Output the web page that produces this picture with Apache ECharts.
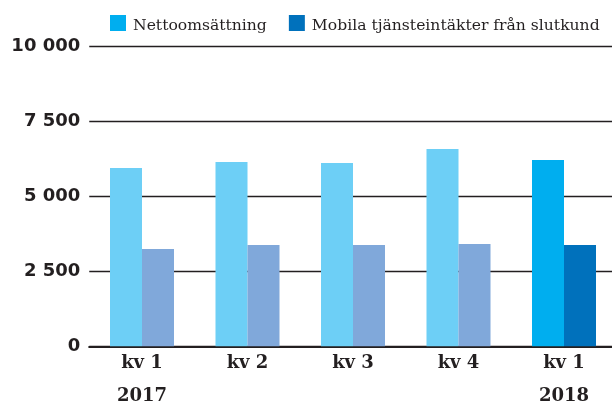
<!DOCTYPE html>
<html>
<head>
<meta charset="utf-8">
<script src="https://cdn.jsdelivr.net/npm/echarts@6/dist/echarts.min.js"></script>
<style>
html,body{margin:0;padding:0;background:#fff;}
#chart{width:612px;height:405px;}
</style>
</head>
<body>
<div id="chart"></div>
<script>
const quarters = ["kv 1", "kv 2", "kv 3", "kv 4", "kv 1"];
const years = ["2017", "", "", "", "2018"];
const seriesNames = ["Nettoomsättning", "Mobila tjänsteintäkter från slutkund"];
const netto = [5940, 6140, 6110, 6580, 6210];
const mobila = [3240, 3380, 3380, 3410, 3380];
const yTicks = [0, 2500, 5000, 7500, 10000];

const darkText = "#231f20";
const nettoColor = "#00aeef", nettoLight = "#6dcff6";
const mobilaColor = "#0071bc", mobilaLight = "#80a8da";

function fmt(v) {
  return String(v).replace(/\B(?=(\d{3})+(?!\d))/g, " ");
}
function items(vals, light) {
  return vals.map((v, i) => i < vals.length - 1 ? { value: v, itemStyle: { color: light } } : { value: v });
}

const chart = echarts.init(document.getElementById("chart"), null, { renderer: "canvas" });
chart.setOption({
  animation: false,
  backgroundColor: "#fff",
  legend: {
    left: 110, top: 15, padding: 0,
    itemWidth: 16, itemHeight: 16, itemGap: 22,
    icon: "rect",
    formatter: name => "{a|" + name + "}",
    textStyle: {
      fontFamily: "DejaVu Serif", fontSize: 15.6, color: darkText,
      rich: { a: { fontFamily: "DejaVu Serif", fontSize: 15.6, color: darkText, padding: [6, 0, 0, 2] } }
    },
    data: seriesNames
  },
  grid: { left: 89.25, width: 527.5, top: 46.3, height: 300, containLabel: false, outerBoundsMode: "none" },
  xAxis: {
    type: "category",
    data: quarters.map((q, i) => q + "#" + i),
    axisLine: { lineStyle: { color: darkText, width: 2.2 } },
    axisTick: { show: false },
    axisLabel: {
      interval: 0, margin: 7,
      formatter: (v, i) => years[i] ? "{q|" + quarters[i] + "}\n{y|" + years[i] + "}" : "{q|" + quarters[i] + "}",
      rich: {
        q: { fontFamily: "DejaVu Serif", fontWeight: "bold", fontSize: 18, color: darkText, lineHeight: 21 },
        y: { fontFamily: "DejaVu Serif", fontWeight: "bold", fontSize: 18, color: darkText, lineHeight: 45 }
      }
    }
  },
  yAxis: {
    type: "value", min: 0, max: 10000, interval: 2500,
    axisLine: { show: false }, axisTick: { show: false },
    splitLine: { lineStyle: { color: darkText, width: 1.3 } },
    axisLabel: {
      margin: 9, color: darkText, fontFamily: "DejaVu Sans", fontWeight: "bold", fontSize: 18,
      formatter: v => yTicks.includes(v) ? fmt(v) : ""
    }
  },
  series: [
    { name: seriesNames[0], type: "bar", barWidth: 32, barGap: "0%", color: nettoColor, data: items(netto, nettoLight) },
    { name: seriesNames[1], type: "bar", barWidth: 32, barGap: "0%", color: mobilaColor, data: items(mobila, mobilaLight) }
  ]
});
</script>
</body>
</html>
